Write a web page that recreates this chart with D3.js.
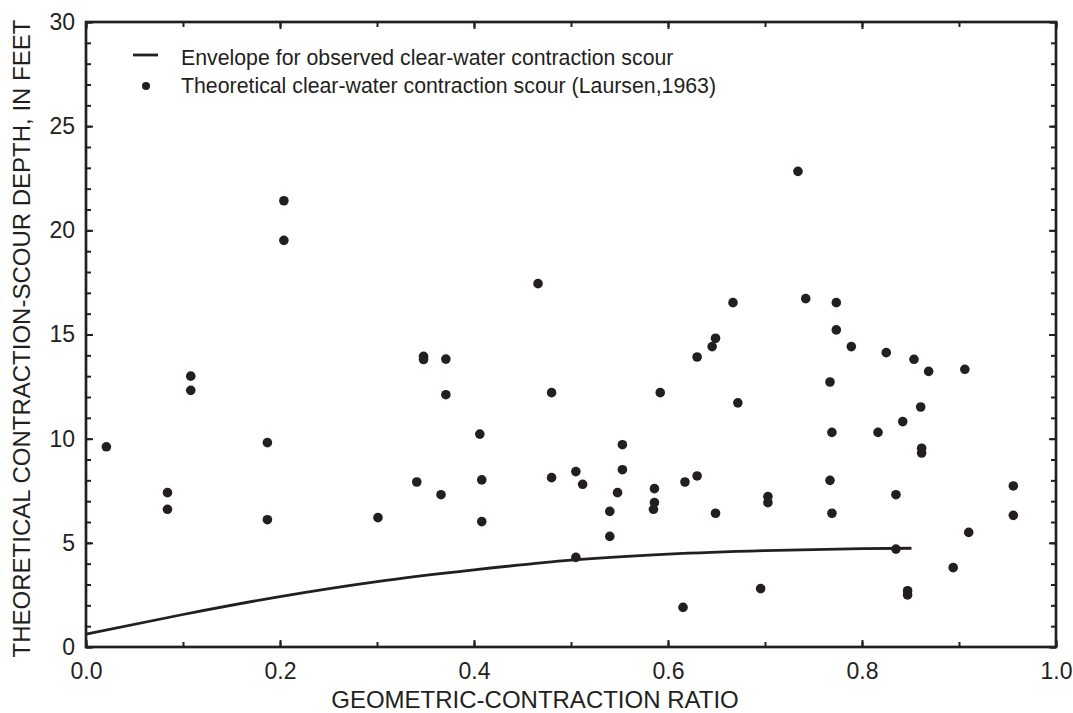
<!DOCTYPE html>
<html>
<head>
<meta charset="utf-8">
<script src="https://cdn.jsdelivr.net/npm/d3@7"></script>
<style>
  html, body { margin: 0; padding: 0; background: #fff; }
  svg { display: block; font-family: "Liberation Sans", Arial, sans-serif; }
</style>
</head>
<body>
<svg id="chart" width="1073" height="713"></svg>
<script>
// ---- Data ----
const pointRatio = [
  0.021, 0.084, 0.084, 0.108, 0.108, 0.187, 0.187, 0.204, 0.204, 0.301,
  0.341, 0.348, 0.348, 0.366, 0.371, 0.371, 0.406, 0.408, 0.408, 0.466,
  0.480, 0.480, 0.505, 0.505, 0.512, 0.540, 0.540, 0.548, 0.553, 0.553,
  0.586, 0.586, 0.585, 0.592, 0.6155, 0.6175, 0.630, 0.630, 0.6455, 0.649,
  0.649, 0.667, 0.672, 0.6955, 0.703, 0.703, 0.734, 0.742, 0.767, 0.767,
  0.769, 0.769, 0.7735, 0.7735, 0.789, 0.8165, 0.825, 0.835, 0.835, 0.842,
  0.847, 0.847, 0.8536, 0.8605, 0.8615, 0.8615, 0.8687, 0.894, 0.906, 0.910,
  0.956, 0.956
];
const pointDepth = [
  9.61, 7.41, 6.61, 13.0, 12.32, 9.81, 6.11, 21.42, 19.52, 6.21,
  7.92, 13.95, 13.8, 7.31, 13.82, 12.11, 10.22, 8.02, 6.02, 17.44,
  12.21, 8.13, 8.42, 4.30, 7.81, 6.51, 5.31, 7.41, 9.71, 8.51,
  7.60, 6.93, 6.61, 12.21, 1.90, 7.92, 8.21, 13.92, 14.42, 14.82,
  6.42, 16.53, 11.72, 2.80, 7.22, 6.93, 22.83, 16.72, 12.72, 8.0,
  10.30, 6.42, 16.53, 15.22, 14.42, 10.30, 14.13, 7.31, 4.70, 10.82,
  2.70, 2.50, 13.81, 11.52, 9.54, 9.31, 13.23, 3.81, 13.33, 5.50,
  7.73, 6.32
];
const envelopeRatio = [0.0, 0.1, 0.2, 0.3, 0.4, 0.5, 0.6, 0.7, 0.8, 0.851];
const envelopeDepth = [0.62, 1.56, 2.42, 3.14, 3.70, 4.17, 4.46, 4.63, 4.72, 4.74];

const xMajorTicks = [0.0, 0.2, 0.4, 0.6, 0.8, 1.0];
const xTickLabels = ["0.0", "0.2", "0.4", "0.6", "0.8", "1.0"];
const yMajorTicks = [0, 5, 10, 15, 20, 25, 30];
const yTickLabels = ["0", "5", "10", "15", "20", "25", "30"];

const legendLabels = [
  "Envelope for observed clear-water contraction scour",
  "Theoretical clear-water contraction scour (Laursen,1963)"
];
const xTitle = "GEOMETRIC-CONTRACTION RATIO";
const yTitle = "THEORETICAL CONTRACTION-SCOUR DEPTH, IN FEET";

// ---- Layout ----
const ink = "#231f20";
const pLeft = 86, pRight = 1056, pTop = 22, pBottom = 647;
const svg = d3.select("#chart");

const x = d3.scaleLinear().domain([0, 1]).range([pLeft, pRight]);
const y = d3.scaleLinear().domain([0, 30]).range([pBottom, pTop]);

const xMinor = d3.range(0, 11).map(i => i / 10);
const yMinor = d3.range(0, 31);

function styleAxis(g) {
  g.select(".domain").remove();
  g.selectAll("line").attr("stroke", ink).attr("stroke-width", 2);
  g.selectAll("text").attr("fill", ink).attr("font-size", 23);
}

// minor ticks (inward) on all four sides
svg.append("g").attr("transform", `translate(0,${pBottom})`)
  .call(d3.axisTop(x).tickValues(xMinor).tickSize(5).tickFormat(""))
  .call(styleAxis);
svg.append("g").attr("transform", `translate(0,${pTop})`)
  .call(d3.axisBottom(x).tickValues(xMinor).tickSize(5).tickFormat(""))
  .call(styleAxis);
svg.append("g").attr("transform", `translate(${pLeft},0)`)
  .call(d3.axisRight(y).tickValues(yMinor).tickSize(5).tickFormat(""))
  .call(styleAxis);
svg.append("g").attr("transform", `translate(${pRight},0)`)
  .call(d3.axisLeft(y).tickValues(yMinor).tickSize(5).tickFormat(""))
  .call(styleAxis);

// major ticks (inward)
svg.append("g").attr("transform", `translate(0,${pBottom})`)
  .call(d3.axisTop(x).tickValues(xMajorTicks).tickSize(7).tickFormat(""))
  .call(styleAxis);
svg.append("g").attr("transform", `translate(0,${pTop})`)
  .call(d3.axisBottom(x).tickValues(xMajorTicks).tickSize(7).tickFormat(""))
  .call(styleAxis);
svg.append("g").attr("transform", `translate(${pLeft},0)`)
  .call(d3.axisRight(y).tickValues(yMajorTicks).tickSize(7).tickFormat(""))
  .call(styleAxis);
svg.append("g").attr("transform", `translate(${pRight},0)`)
  .call(d3.axisLeft(y).tickValues(yMajorTicks).tickSize(7).tickFormat(""))
  .call(styleAxis);

// tick labels
svg.append("g").attr("transform", `translate(0,${pBottom})`)
  .call(d3.axisBottom(x).tickValues(xMajorTicks).tickSize(0).tickPadding(16)
    .tickFormat((d, i) => xTickLabels[i]))
  .call(styleAxis);
svg.append("g").attr("transform", `translate(${pLeft},0)`)
  .call(d3.axisLeft(y).tickValues(yMajorTicks).tickSize(0).tickPadding(11)
    .tickFormat((d, i) => yTickLabels[i]))
  .call(styleAxis);

// frame
svg.append("rect")
  .attr("x", pLeft).attr("y", pTop)
  .attr("width", pRight - pLeft).attr("height", pBottom - pTop)
  .attr("fill", "none").attr("stroke", ink).attr("stroke-width", 2.7);

// envelope line
const line = d3.line().curve(d3.curveMonotoneX)
  .x(d => x(d[0])).y(d => y(d[1]));
svg.append("path")
  .datum(envelopeRatio.map((r, i) => [r, envelopeDepth[i]]))
  .attr("d", line)
  .attr("fill", "none").attr("stroke", ink).attr("stroke-width", 2.8);

// points
svg.append("g").selectAll("circle")
  .data(pointRatio.map((r, i) => [r, pointDepth[i]]))
  .join("circle")
  .attr("cx", d => x(d[0])).attr("cy", d => y(d[1]))
  .attr("r", 4.8).attr("fill", ink);

// legend
const lg = svg.append("g");
lg.append("line").attr("x1", 133).attr("x2", 158).attr("y1", 55).attr("y2", 55)
  .attr("stroke", ink).attr("stroke-width", 2.8);
lg.append("circle").attr("cx", 146).attr("cy", 86).attr("r", 4).attr("fill", ink);
lg.append("text").attr("x", 181).attr("y", 65).text(legendLabels[0])
  .attr("font-size", 21.3).attr("fill", ink);
lg.append("text").attr("x", 181).attr("y", 92.5).text(legendLabels[1])
  .attr("font-size", 21.3).attr("fill", ink);

// axis titles
svg.append("text").attr("x", 535).attr("y", 708)
  .attr("text-anchor", "middle").attr("font-size", 24).attr("fill", ink)
  .text(xTitle);
svg.append("text")
  .attr("transform", `translate(30,${338.5}) rotate(-90)`)
  .attr("text-anchor", "middle").attr("font-size", 24).attr("fill", ink)
  .text(yTitle);
</script>
</body>
</html>
